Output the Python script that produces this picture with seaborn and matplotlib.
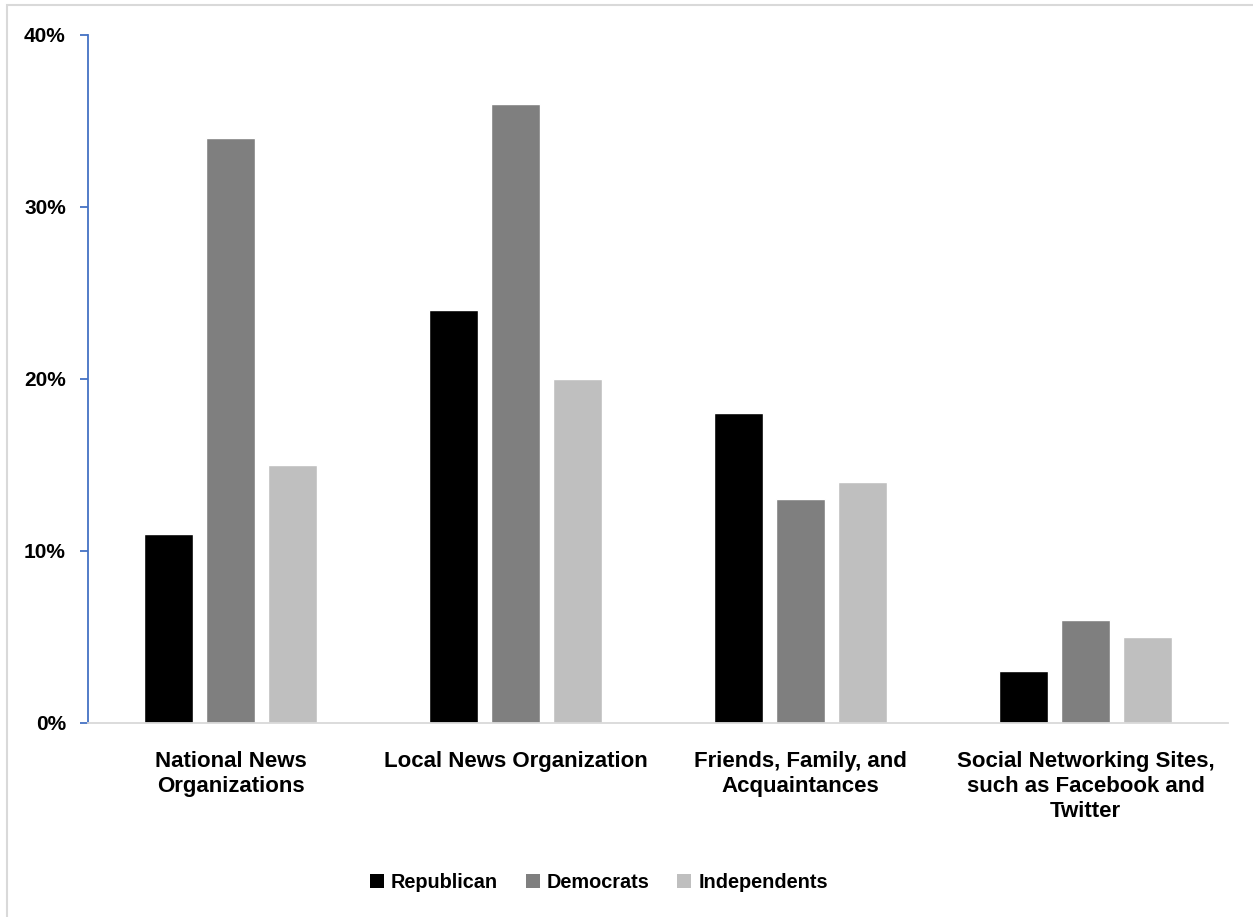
import matplotlib
matplotlib.use("Agg")
import matplotlib.pyplot as plt
from matplotlib.patches import Patch, Rectangle
from matplotlib.ticker import FuncFormatter, MultipleLocator
import pandas as pd
import seaborn as sns

categories = [
    "National News\nOrganizations",
    "Local News Organization",
    "Friends, Family, and\nAcquaintances",
    "Social Networking Sites,\nsuch as Facebook and\nTwitter",
]
parties = ["Republican", "Democrats", "Independents"]
republican = [11, 24, 18, 3]
democrats = [34, 36, 13, 6]
independents = [15, 20, 14, 5]
colors = ["#000000", "#7F7F7F", "#BFBFBF"]

rows = []
for party, vals in zip(parties, [republican, democrats, independents]):
    for cat, v in zip(categories, vals):
        rows.append({"category": cat, "party": party, "value": v})
df = pd.DataFrame(rows)

sns.set_style("white")
plt.rcParams["font.family"] = ["Liberation Sans", "DejaVu Sans"]
plt.rcParams["font.weight"] = "bold"
plt.rcParams["text.color"] = "black"
plt.rcParams["xtick.labelcolor"] = "black"
plt.rcParams["ytick.labelcolor"] = "black"

fig = plt.figure(figsize=(12.53, 9.17), dpi=100)
ax = fig.add_axes([88 / 1253, 1 - 723 / 917, (1228 - 88) / 1253, (723 - 35) / 917])

sns.barplot(data=df, x="category", y="value", hue="party", order=categories,
            hue_order=parties, palette=colors, width=0.654, gap=0.21,
            saturation=1, ax=ax, legend=False)

ax.set_xlim(-0.5, len(categories) - 0.5)
ax.set_ylim(0, 40)
ax.yaxis.set_major_locator(MultipleLocator(10))
ax.yaxis.set_major_formatter(FuncFormatter(lambda v, _: f"{v:.0f}%"))
ax.set_xlabel("")
ax.set_ylabel("")

for s in ["top", "right"]:
    ax.spines[s].set_visible(False)
ax.spines["left"].set_color("#4472C4")
ax.spines["left"].set_linewidth(1.3)
ax.spines["bottom"].set_color("#D9D9D9")
ax.spines["bottom"].set_linewidth(1.3)

ax.tick_params(axis="y", which="major", direction="out", length=6, width=1.3,
               color="#4472C4", left=True, pad=10, labelsize=15, labelcolor="black")
ax.tick_params(axis="x", length=0, pad=20, labelsize=16, labelcolor="black")
for lab in ax.get_xticklabels() + ax.get_yticklabels():
    lab.set_fontweight("bold")
    lab.set_linespacing(1.25)

handles = [Patch(facecolor=c, edgecolor="none", label=p) for p, c in zip(parties, colors)]
fig.legend(handles=handles, loc="center", bbox_to_anchor=(599 / 1253, 1 - 882 / 917),
           ncol=3, frameon=False, handlelength=0.7, handleheight=0.7,
           handletextpad=0.35, columnspacing=1.4, labelcolor="black",
           prop={"weight": "bold", "size": 14.3})

# chart frame
fig.patches.append(Rectangle((7 / 1253, -0.05), 1.2, 1 - 5 / 917 + 0.05,
                             transform=fig.transFigure, fill=False,
                             edgecolor="#D9D9D9", linewidth=1.5, zorder=0))

fig.savefig("out.png", dpi=100)
